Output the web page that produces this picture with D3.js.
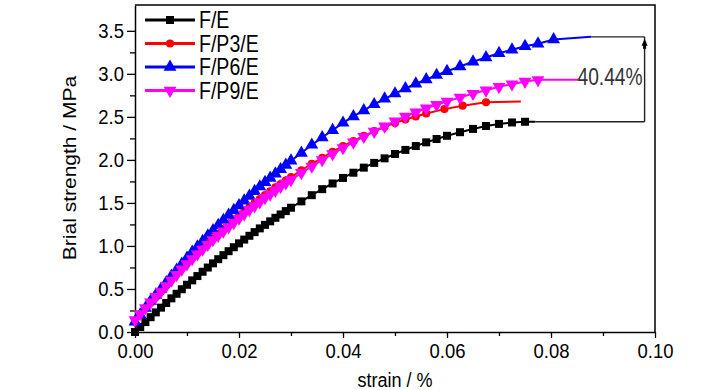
<!DOCTYPE html>
<html><head><meta charset="utf-8">
<script src="https://cdn.jsdelivr.net/npm/d3@7"></script>
<style>
body{margin:0;background:#fff}
svg{display:block}
text{font-family:"Liberation Sans",Arial,sans-serif;fill:#000}
</style>
</head><body>
<svg id="chart" width="728" height="390"></svg>
<script>
// ---------------- data ----------------
const seriesNames = ["F/E", "F/P3/E", "F/P6/E", "F/P9/E"];

const commonStrain = [0,0.001,0.002,0.003,0.004,0.005,0.006,0.007,0.008,0.009,
  0.010,0.011,0.012,0.013,0.014,0.015,0.016,0.017,0.018,0.019,
  0.020,0.021,0.022,0.023,0.024,0.025,0.026,0.027,0.028,0.029,0.030,
  0.032,0.034,0.036,0.038,0.040,0.042,0.044,0.046,0.048,0.050,0.052,0.054,0.056,0.058,0.060];

const strainFE = commonStrain.concat([0.0625,0.065,0.0675,0.070,0.0725,0.075,0.077]);
const stressFE = [0,0.058,0.115,0.172,0.228,0.283,0.337,0.391,0.444,0.497,
  0.549,0.600,0.650,0.700,0.749,0.798,0.846,0.893,0.939,0.985,
  1.030,1.074,1.118,1.161,1.204,1.245,1.286,1.327,1.366,1.405,1.444,
  1.518,1.590,1.660,1.726,1.790,1.851,1.910,1.965,2.018,2.069,2.116,2.161,2.204,2.243,2.280,
  2.322,2.360,2.394,2.418,2.435,2.443,2.443];

const strainP3 = commonStrain.slice(0, 44).concat([0.0595,0.063,0.0675,0.0742]);
const stressP3 = [0.12,0.195,0.27,0.34,0.405,0.47,0.54,0.61,0.675,0.74,
  0.80,0.86,0.92,0.98,1.035,1.09,1.145,1.20,1.25,1.30,
  1.35,1.40,1.45,1.50,1.545,1.59,1.635,1.68,1.72,1.76,1.80,
  1.88,1.955,2.025,2.095,2.16,2.22,2.28,2.335,2.385,2.43,2.47,2.505,2.54,
  2.59,2.63,2.67,2.68];

const strainP6 = commonStrain.concat([0.0625,0.065,0.0675,0.070,0.0725,0.075,0.0775,0.0805,0.0877]);
const stressP6 = [0.12,0.20,0.28,0.36,0.43,0.50,0.575,0.65,0.72,0.79,
  0.86,0.93,0.99,1.055,1.12,1.18,1.24,1.30,1.36,1.415,
  1.47,1.525,1.58,1.635,1.69,1.74,1.79,1.84,1.89,1.94,1.99,
  2.08,2.175,2.26,2.345,2.43,2.505,2.575,2.645,2.71,2.77,2.83,2.885,2.935,2.985,3.03,
  3.085,3.14,3.19,3.24,3.28,3.32,3.35,3.40,3.43];

const strainP9 = commonStrain.concat([0.0625,0.065,0.0675,0.070,0.0725,0.075,0.0775,0.0855]);
const stressP9 = [0.14,0.21,0.28,0.345,0.41,0.47,0.535,0.60,0.665,0.73,
  0.79,0.85,0.905,0.96,1.015,1.07,1.12,1.17,1.22,1.27,
  1.32,1.37,1.42,1.465,1.51,1.56,1.60,1.645,1.69,1.73,1.77,
  1.85,1.925,2.0,2.07,2.14,2.205,2.27,2.33,2.39,2.45,2.505,2.555,2.60,2.64,2.68,
  2.725,2.77,2.81,2.85,2.88,2.91,2.93,2.93];

const xTicks = [0,0.02,0.04,0.06,0.08,0.10];
const xMinorTicks = [0.01,0.03,0.05,0.07,0.09];
const yTicks = [0,0.5,1.0,1.5,2.0,2.5,3.0,3.5];
const yMinorTicks = [0.25,0.75,1.25,1.75,2.25,2.75,3.25];
const annotationText = "40.44%";
const annotationStrain = 0.098;

// ---------------- setup ----------------
const svg = d3.select("#chart");
const pL = 135, pR = 655, pT = 5, pB = 332;
const x = d3.scaleLinear().domain([0, 0.10]).range([pL, pR]);
const y = d3.scaleLinear().domain([0, 3.8]).range([pB, pT]);

const colors = ["#000000", "#ff0000", "#0000ff", "#ff00ff"];
const symbols = [d3.symbolSquare, d3.symbolCircle, d3.symbolTriangle, d3.symbolTriangle];
const symSizes = [64, 52, 72, 72];
const symRot = [0, 0, 0, 180];

const series = [
  {strain: strainFE, stress: stressFE},
  {strain: strainP3, stress: stressP3},
  {strain: strainP6, stress: stressP6},
  {strain: strainP9, stress: stressP9}
].map((s, i) => ({
  name: seriesNames[i], color: colors[i],
  pts: s.strain.map((e, j) => ({e, v: s.stress[j]}))
}));

// ---------------- axes ----------------
const sx = 0.88;
const xAxis = svg.append("g").attr("transform", `translate(0,${pB})`)
  .call(d3.axisBottom(x).tickValues(xTicks).tickFormat(d3.format(".2f"))
    .tickSize(6).tickPadding(5).tickSizeOuter(0));
svg.append("g").attr("transform", `translate(0,${pB})`)
  .call(d3.axisBottom(x).tickValues(xMinorTicks).tickFormat("").tickSize(4).tickSizeOuter(0))
  .select(".domain").remove();
xAxis.selectAll("text").attr("font-size", 21).attr("transform", `scale(${sx},1)`);

const yAxis = svg.append("g").attr("transform", `translate(${pL},0)`)
  .call(d3.axisLeft(y).tickValues(yTicks).tickFormat(d3.format(".1f"))
    .tickSize(8).tickPadding(3).tickSizeOuter(0));
svg.append("g").attr("transform", `translate(${pL},0)`)
  .call(d3.axisLeft(y).tickValues(yMinorTicks).tickFormat("").tickSize(5).tickSizeOuter(0))
  .select(".domain").remove();
yAxis.selectAll("text").attr("font-size", 21).attr("x", -11 / sx)
  .attr("transform", `scale(${sx},1)`);

svg.selectAll(".domain").attr("stroke", "#000").attr("stroke-width", 1.5);
svg.selectAll(".tick line").attr("stroke", "#000").attr("stroke-width", 1.3);

// frame (top and right)
svg.append("path")
  .attr("d", `M${pL},${pT}H${pR}V${pB}`)
  .attr("fill", "none").attr("stroke", "#000").attr("stroke-width", 1.5);

// axis titles
svg.append("g").attr("transform", `translate(${(pL + pR) / 2},387) scale(0.86,1)`)
  .append("text").attr("text-anchor", "middle").attr("font-size", 21).text("strain / %");
svg.append("g").attr("transform", `translate(70,168) rotate(-90) scale(1,0.88)`)
  .append("text").attr("text-anchor", "middle").attr("dy", "0.35em")
  .attr("font-size", 21).text("Brial strength / MPa");

// ---------------- series ----------------
const line = d3.line().x(d => x(d.e)).y(d => y(d.v));
series.forEach((s, i) => {
  const g = svg.append("g");
  g.append("path").datum(s.pts).attr("d", line)
    .attr("fill", "none").attr("stroke", s.color).attr("stroke-width", 2);
  g.selectAll("path.m").data(s.pts.slice(0, -1)).enter().append("path")
    .attr("class", "m")
    .attr("d", d3.symbol().type(symbols[i]).size(symSizes[i]))
    .attr("transform", d => `translate(${x(d.e)},${y(d.v)}) rotate(${symRot[i]})`)
    .attr("fill", s.color);
});

// ---------------- annotation ----------------
const endFE = series[0].pts[series[0].pts.length - 1];
const endP6 = series[2].pts[series[2].pts.length - 1];
const ax = x(annotationStrain);
const ann = svg.append("g").attr("stroke", "#222").attr("stroke-width", 1.4).attr("fill", "none");
ann.append("line").attr("x1", x(endP6.e)).attr("x2", ax).attr("y1", y(endP6.v)).attr("y2", y(endP6.v));
ann.append("line").attr("x1", x(endFE.e)).attr("x2", ax).attr("y1", y(endFE.v)).attr("y2", y(endFE.v));
ann.append("line").attr("x1", ax).attr("x2", ax).attr("y1", y(endP6.v)).attr("y2", y(endFE.v));
svg.append("path")
  .attr("d", `M${ax},${y(endP6.v) + 2}l-3,7h6z`)
  .attr("fill", "#000");
svg.append("rect").attr("x", ax - 1.5).attr("y", y(endP6.v) + 8).attr("width", 3).attr("height", 4).attr("fill", "#000");
svg.append("g").attr("transform", `translate(${ax - 2},${y(2.9) + 2.5}) scale(0.8,1)`)
  .append("text").attr("text-anchor", "end").attr("font-size", 24)
  .style("fill", "#333").text(annotationText);

// ---------------- legend ----------------
const legY = [20, 43.5, 67, 90.5];
series.forEach((s, i) => {
  const g = svg.append("g").attr("transform", `translate(0,${legY[i]})`);
  g.append("line").attr("x1", 145).attr("x2", 195).attr("y1", 0).attr("y2", 0)
    .attr("stroke", s.color).attr("stroke-width", 3);
  g.append("path").attr("d", d3.symbol().type(symbols[i]).size(symSizes[i]))
    .attr("transform", `translate(170,0) rotate(${symRot[i]})`).attr("fill", s.color);
  g.append("g").attr("transform", "translate(199,0) scale(0.85,1)")
    .append("text").attr("dy", "0.36em").attr("font-size", 23).text(s.name);
});
</script>
</body></html>
